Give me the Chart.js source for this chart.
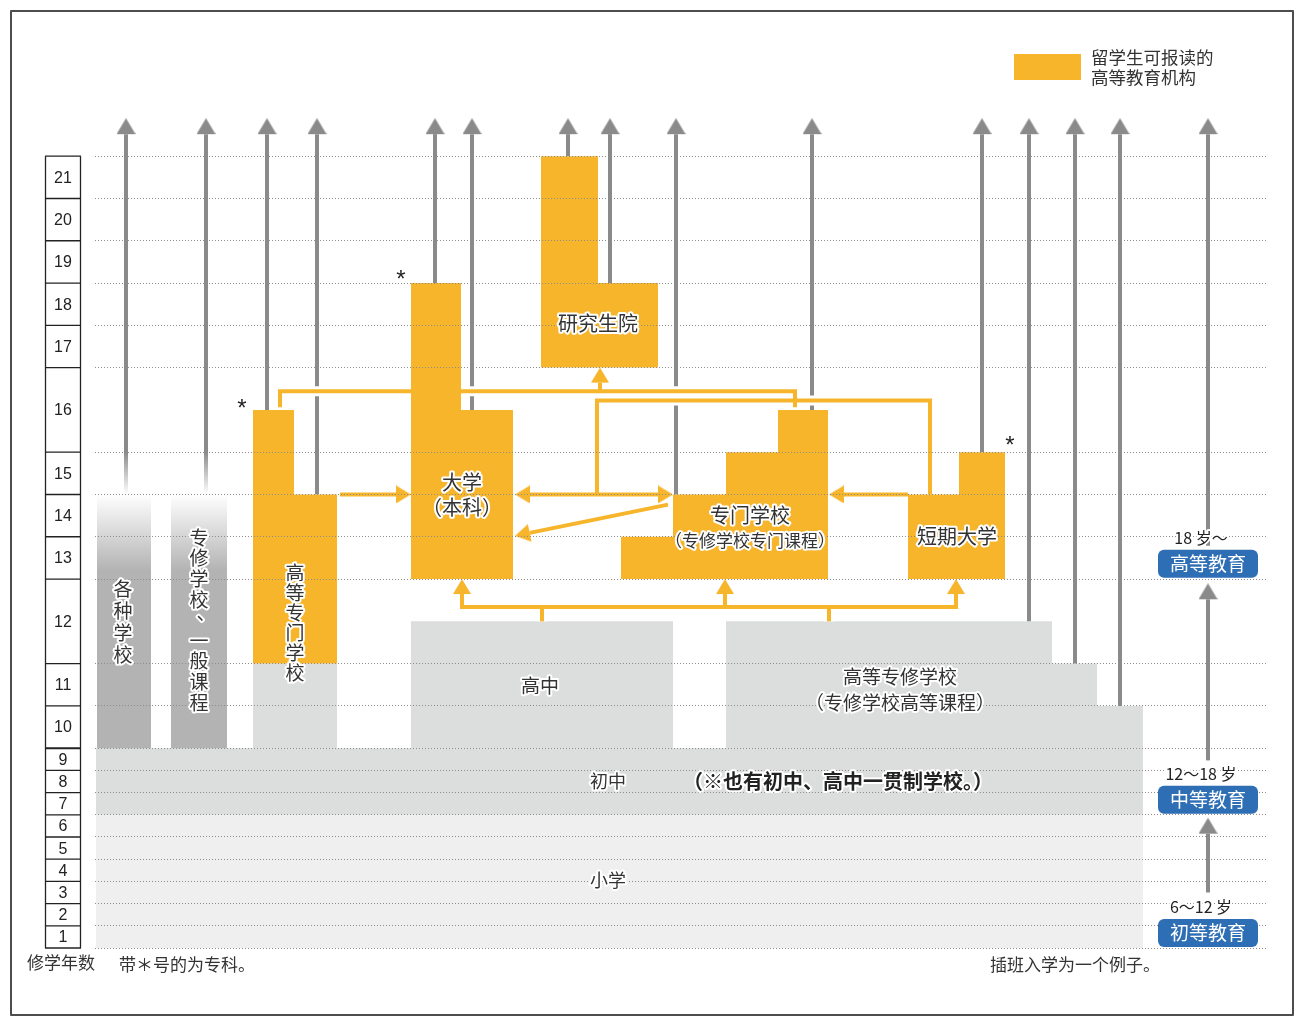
<!DOCTYPE html>
<html>
<head>
<meta charset="utf-8">
<title>日本的学校体系</title>
<script src="https://cdn.jsdelivr.net/npm/chart.js@4.4.1/dist/chart.umd.min.js"></script>
<style>
  html, body { margin: 0; padding: 0; background: #fff; }
  #wrap { width: 1295px; height: 1024px; }
  canvas { display: block; }
</style>
</head>
<body>
<div id="wrap"><canvas id="schoolChart" width="1295" height="1024"></canvas></div>
<script>
// ---- data ----
var yearLabels = ['1', '2', '3', '4', '5', '6', '7', '8', '9', '10', '11', '12', '13', '14', '15', '16', '17', '18', '19', '20', '21'];
var doubleRows = [12, 16];

var blockNames = ['小学', '初中', '高中', '高等专修学校', '高等专门学校（前段）', '高等专门学校', '大学（本科）', '研究生院', '专门学校', '短期大学'];
var blockStart = [1, 7, 10, 10, 10, 12, 13, 17, 13, 13];
var blockTops  = [[6], [9], [12], [12, 11, 10], [11], [16, 14], [18, 16], [21, 18], [13, 14, 15, 16], [14, 15]];
var blockOpen  = [false, false, false, false, false, true, true, true, true, true];

var columnNames = ['各种学校', '专修学校、一般课程'];
var columnStart = [10, 10];
var columnTop = [14, 14];

var exitFrom = [14, 14, 15.5, 14, 18, 15.5, 21, 18, 14, 15.5, 15, 11.5, 11, 10];
var exitTo = 21.9;

var stageNames = ['初等教育', '中等教育', '高等教育'];
var stageAges = ['6～12 岁', '12～18 岁', '18 岁～'];
var stagePath = [[2.5, 5.87], [8.45, 11.95], [12.79, 21.9]];

// ---- layout ----
var LOWER_ROW = 1.05;
var Y_MAX = 39.54;
var U_PX = 836 / Y_MAX;

var blockEdges = [[96, 1143], [96, 1143], [411, 673], [726, 1052, 1097, 1143], [253, 337], [253, 294, 337], [411, 461, 513], [541, 598, 658], [621, 673, 726, 778, 828], [908, 959, 1005]];
var columnEdges = [[97, 151], [171, 227]];
var exitX = [126, 206, 267, 317, 435, 472, 568, 610, 676, 812, 982, 1029, 1075, 1120];
var stageX = 1208;

var links = [
  { pts: [[462, 12], [462, 11.67], [956, 11.67], [956, 12]], start: true, end: true },
  { pts: [[725, 11.67], [725, 12]], end: true },
  { pts: [[542, 11.5], [542, 11.67]] },
  { pts: [[829, 11.5], [829, 11.67]] },
  { pts: [[280, 15.53], [280, 15.72], [795, 15.72], [795, 15.53]] },
  { pts: [[600, 15.72], [600, 16]], end: true },
  { pts: [[597, 14], [597, 15.61], [930, 15.61], [930, 14]] },
  { pts: [[515, 14], [673, 14]], start: true, end: true },
  { pts: [[340, 14], [411, 14]], end: true },
  { pts: [[908, 14], [829, 14]], end: true },
  { pts: [[668, 13.76], [515, 13.02]], end: true }
];

var ORANGE = '#f7b52c';
var GRAY = '#8a8a8a';
var LIGHT = '#efefef';
var MID = '#dcdddd';
var COLUMN = '#b3b3b3';
var BLUE = '#2e6eb5';
var INK = '#333333';
var FONT = '"Noto Sans CJK SC", "Noto Sans", sans-serif';

// ---- helpers ----
function rowHeight(r) {
  if (r <= 9) return LOWER_ROW;
  return doubleRows.indexOf(r) >= 0 ? 4 : 2;
}
function unitAt(b) {
  var i = Math.floor(b), u = 0;
  for (var r = 1; r <= i; r++) u += rowHeight(r);
  return u + (b - i) * rowHeight(i + 1);
}
function topOf(year) {
  return doubleRows.indexOf(year) >= 0 ? year - 0.5 : year;
}
function headImage(color, w, h) {
  var c = document.createElement('canvas');
  c.width = w; c.height = 2 * h;
  var g = c.getContext('2d');
  g.fillStyle = color;
  g.beginPath();
  g.moveTo(w / 2, 0); g.lineTo(w, h); g.lineTo(0, h);
  g.closePath(); g.fill();
  return c;
}
var grayHead = { img: headImage(GRAY, 19, 16), h: 16 };
var orangeHead = { img: headImage(ORANGE, 18, 15), h: 15 };

function blockData(edges, tops) {
  var pts = [];
  for (var i = 0; i < tops.length; i++) pts.push({ x: edges[i], y: unitAt(topOf(tops[i])) });
  pts.push({ x: edges[edges.length - 1], y: unitAt(topOf(tops[tops.length - 1])) });
  return pts;
}

function fadeUp(from, to, color) {
  return function (context) {
    var ch = context.chart;
    if (!ch.chartArea || !ch.scales.y) return color;
    var y = ch.scales.y;
    var g = ch.ctx.createLinearGradient(0, y.getPixelForValue(unitAt(from)), 0, y.getPixelForValue(unitAt(to)));
    g.addColorStop(0, '#ffffff');
    g.addColorStop(1, color);
    return g;
  };
}

// order: larger = further back
var ORDER_BASE = 9, ORDER_GRAY = 8, ORDER_ARROW = 7, ORDER_HALO = 6, ORDER_OPEN = 5, ORDER_LINK = 2;

function arrowSets(points, headStart, headEnd, color, width, head, order, underlay) {
  var pts = points.map(function (p) { return { x: p[0], y: unitAt(p[1]) }; });
  var n = pts.length, styles = [], rot = [], rad = [];
  for (var i = 0; i < n; i++) { styles.push('circle'); rot.push(0); rad.push(0); }
  function pull(i, j) {
    var dx = pts[i].x - pts[j].x, dy = -(pts[i].y - pts[j].y) * U_PX;
    var len = Math.sqrt(dx * dx + dy * dy);
    pts[i] = { x: pts[i].x - dx / len * head.h, y: pts[i].y + dy / len * head.h / U_PX };
    styles[i] = head.img;
    rot[i] = Math.atan2(dx, -dy) * 180 / Math.PI;
    rad[i] = 3;
  }
  if (headStart) pull(0, 1);
  if (headEnd) pull(n - 1, n - 2);
  var out = [{
    data: pts, borderColor: color, borderWidth: width, fill: false,
    pointStyle: styles, pointRotation: rot, pointRadius: rad,
    pointBackgroundColor: color, pointBorderWidth: 0, order: order, clip: false
  }];
  if (underlay) {
    out.push({
      data: pts.slice(), borderColor: '#ffffff', borderWidth: 10, fill: false,
      pointRadius: 0, order: ORDER_HALO, clip: false
    });
  }
  return out;
}

// ---- datasets ----
var datasets = [];
blockNames.forEach(function (name, i) {
  var color = blockOpen[i] ? ORANGE : (i === 0 ? LIGHT : MID);
  datasets.push({
    label: name,
    data: blockData(blockEdges[i], blockTops[i]),
    stepped: true,
    fill: { value: unitAt(blockStart[i] - 1) },
    backgroundColor: color,
    borderColor: 'rgba(0,0,0,0)',
    borderWidth: 0,
    pointRadius: 0,
    order: i < 2 ? ORDER_BASE : (blockOpen[i] ? ORDER_OPEN : ORDER_GRAY)
  });
});
columnNames.forEach(function (name, i) {
  datasets.push({
    label: name,
    data: blockData(columnEdges[i], [columnTop[i]]),
    stepped: true,
    fill: { value: unitAt(columnStart[i] - 1) },
    backgroundColor: fadeUp(columnTop[i], 12.2, COLUMN),
    borderColor: 'rgba(0,0,0,0)',
    borderWidth: 0,
    pointRadius: 0,
    order: ORDER_GRAY
  });
});
exitX.forEach(function (x, i) {
  var set = arrowSets([[x, exitFrom[i]], [x, exitTo]], false, true, GRAY, 4, grayHead, ORDER_ARROW, false)[0];
  if (i < 2) set.borderColor = fadeUp(exitFrom[i], exitFrom[i] + 1, GRAY);
  datasets.push(set);
});
stagePath.forEach(function (seg) {
  datasets.push(arrowSets([[stageX, seg[0]], [stageX, seg[1]]], false, true, GRAY, 4, grayHead, ORDER_ARROW, false)[0]);
});
links.forEach(function (l) {
  arrowSets(l.pts, !!l.start, !!l.end, ORANGE, 4, orangeHead, ORDER_LINK, true).forEach(function (d) { datasets.push(d); });
});

// ---- text, table, frame ----
function haloText(c, text, x, y, size, opts) {
  opts = opts || {};
  c.font = (opts.bold ? 'bold ' : '') + size + 'px ' + FONT;
  c.textAlign = opts.align || 'center';
  c.textBaseline = 'middle';
  c.lineJoin = 'round';
  c.lineWidth = 4;
  c.strokeStyle = '#ffffff';
  c.strokeText(text, x, y);
  c.fillStyle = opts.color || INK;
  c.fillText(text, x, y);
}
function plainText(c, text, x, y, size, opts) {
  opts = opts || {};
  c.font = (opts.bold ? 'bold ' : '') + size + 'px ' + (opts.font || FONT);
  c.textAlign = opts.align || 'center';
  c.textBaseline = 'middle';
  c.fillStyle = opts.color || INK;
  c.fillText(text, x, y);
}

var decor = {
  id: 'decor',
  afterDraw: function (chart) {
    var c = chart.ctx, ys = chart.scales.y;
    function py(b) { return ys.getPixelForValue(unitAt(b)); }
    c.save();

    // year table
    c.strokeStyle = '#222';
    for (var b = 0; b <= yearLabels.length; b++) {
      c.lineWidth = b === 9 ? 2 : 1.3;
      c.beginPath(); c.moveTo(45, py(b)); c.lineTo(81, py(b)); c.stroke();
    }
    c.lineWidth = 1.3;
    c.beginPath();
    c.moveTo(45.5, py(0)); c.lineTo(45.5, py(21));
    c.moveTo(80.5, py(0)); c.lineTo(80.5, py(21));
    c.stroke();
    yearLabels.forEach(function (t, i) {
      plainText(c, t, 63, (py(i) + py(i + 1)) / 2 + 1, 16, { font: '"Liberation Sans", Arial, sans-serif', color: '#222' });
    });

    // block labels
    haloText(c, '大学', 462, py(14.29), 20);
    haloText(c, '（本科）', 462, py(13.69), 20);
    haloText(c, '研究生院', 598, py(17.05), 20);
    haloText(c, '专门学校', 750, py(13.5), 20);
    haloText(c, '（专修学校专门课程）', 750, py(12.9), 17);
    haloText(c, '短期大学', 957, py(13.0), 20);
    haloText(c, '高中', 540, py(10.48), 19);
    haloText(c, '高等专修学校', 900, py(10.69), 19);
    haloText(c, '（专修学校高等课程）', 900, py(10.07), 19);
    haloText(c, '初中', 608, py(7.5), 18);
    haloText(c, '（※也有初中、高中一贯制学校。）', 683, py(7.5), 20, { bold: true, align: 'left', color: '#222' });
    haloText(c, '小学', 608, py(3.05), 18);

    // vertical labels
    [['各种学校', 123, 11.89, 22], ['专修学校、一般课程', 199, 12.98, 20.6], ['高等专门学校', 295, 12.14, 20]].forEach(function (v) {
      var y0 = py(v[2]);
      Array.from(v[0]).forEach(function (ch, k) {
        var dx = ch === '、' ? 7 : 0, dy = ch === '、' ? -7 : 0;
        haloText(c, ch, v[1] + dx, y0 + k * v[3] + dy, 19);
      });
    });

    // asterisks
    [[242, 15.56], [401, 18.17], [1010, 15.13]].forEach(function (a) {
      plainText(c, '*', a[0], py(a[1]) + 5, 24, { font: '"Liberation Sans", Arial, sans-serif', color: '#222' });
    });

    // stages on the right
    var boxB = [0.68, 6.68, 12.36], ageB = [1.86, 7.82, 12.98];
    stageNames.forEach(function (name, i) {
      var cy = py(boxB[i]);
      c.fillStyle = BLUE;
      c.beginPath();
      c.roundRect(1158, cy - 14, 100, 28, 6);
      c.fill();
      plainText(c, name, 1208, cy, 19, { color: '#ffffff' });
      haloText(c, stageAges[i], 1201, py(ageB[i]), 16, { color: '#222' });
    });

    // legend
    c.fillStyle = ORANGE;
    c.fillRect(1014, 54, 67, 26);
    plainText(c, '留学生可报读的', 1091, 57, 17.5, { align: 'left' });
    plainText(c, '高等教育机构', 1091, 77, 17.5, { align: 'left' });

    // notes
    plainText(c, '修学年数', 27, 963, 17, { align: 'left' });
    plainText(c, '带＊号的为专科。', 119, 965, 17, { align: 'left' });
    plainText(c, '插班入学为一个例子。', 990, 965, 17, { align: 'left' });

    // frame
    c.strokeStyle = '#4d4d4d';
    c.lineWidth = 2;
    c.strokeRect(11, 11, 1282, 1004);
    c.restore();
  }
};

var ctx = document.getElementById('schoolChart').getContext('2d');
var schoolChart = new Chart(ctx, {
  type: 'line',
  data: { datasets: datasets },
  options: {
    responsive: false,
    animation: false,
    events: [],
    layout: { padding: { left: 95, right: 28, top: 112, bottom: 76 } },
    scales: {
      x: { type: 'linear', min: 95, max: 1267, display: false },
      y: {
        type: 'linear', min: 0, max: Y_MAX, display: true,
        afterBuildTicks: function (scale) {
          scale.ticks = [0].concat(yearLabels.map(Number)).map(function (b) { return { value: unitAt(b) }; });
        },
        ticks: { display: false },
        grid: { color: '#8c8c8c', lineWidth: 1, drawTicks: false, z: 1 },
        border: { display: false, dash: [1, 2] }
      }
    },
    plugins: {
      legend: { display: false },
      tooltip: { enabled: false }
    }
  },
  plugins: [decor]
});
</script>
</body>
</html>
